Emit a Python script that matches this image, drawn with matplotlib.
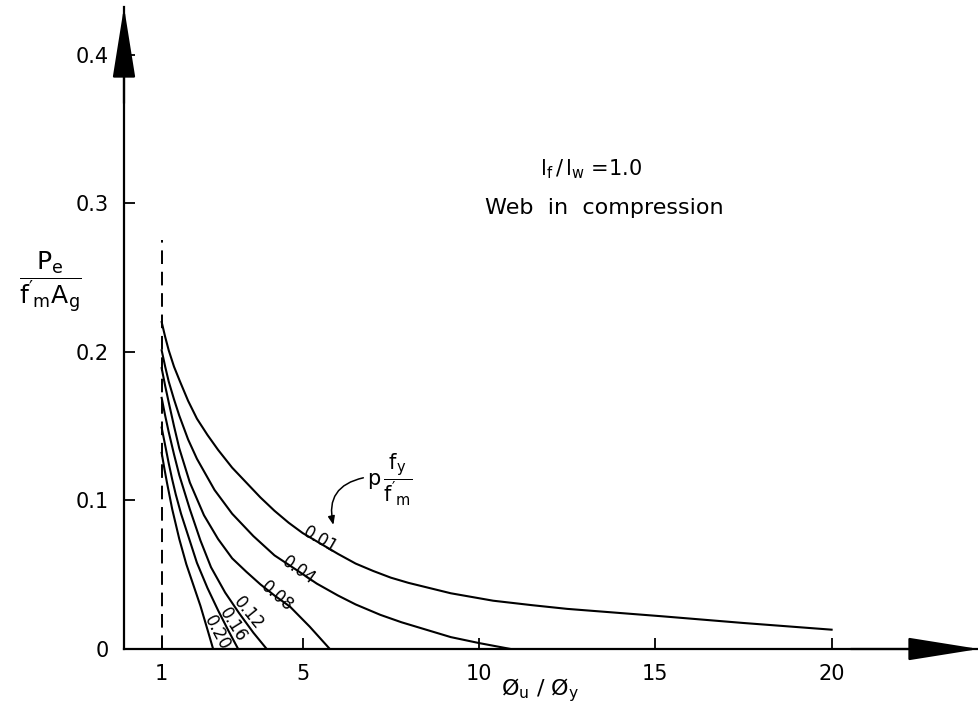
import matplotlib
matplotlib.use("Agg")
import matplotlib.pyplot as plt

plt.rcParams["font.family"] = ["DejaVu Sans"]
plt.rcParams["mathtext.default"] = "regular"

# ductility ratio vs axial load, one curve per p*fy/f'm
RHO = ["0.01", "0.04", "0.08", "0.12", "0.16", "0.20"]

x_001 = [1.0, 1.1, 1.2, 1.35, 1.52, 1.75, 2.0, 2.3, 2.6, 3.0, 3.4, 3.8, 4.2, 4.6, 5.0,
         5.5, 6.0, 6.5, 7.0, 7.5, 8.0, 9.2, 10.4, 11.5, 12.5, 15.2, 17.5, 20.0]
y_001 = [0.220, 0.210, 0.201, 0.190, 0.180, 0.167, 0.155, 0.144, 0.134, 0.122, 0.112, 0.102,
         0.093, 0.085, 0.078, 0.071, 0.064, 0.0575, 0.0525, 0.048, 0.0445, 0.0375, 0.0325,
         0.0295, 0.027, 0.022, 0.0175, 0.013]

x_004 = [1.0, 1.1, 1.2, 1.35, 1.5, 1.75, 2.0, 2.5, 3.0, 3.6, 4.2, 4.9, 5.4, 6.0, 6.5,
         7.2, 7.8, 8.5, 9.2, 10.0, 10.9]
y_004 = [0.201, 0.190, 0.180, 0.168, 0.157, 0.141, 0.128, 0.107, 0.091, 0.076, 0.063,
         0.052, 0.044, 0.036, 0.030, 0.023, 0.018, 0.013, 0.008, 0.004, 0.0]

x_008 = [1.0, 1.1, 1.2, 1.35, 1.5, 1.8, 2.2, 2.6, 3.0, 3.4, 3.8, 4.2, 4.64, 5.2, 5.77]
y_008 = [0.189, 0.177, 0.166, 0.150, 0.135, 0.112, 0.090, 0.074, 0.061, 0.052, 0.0435,
         0.036, 0.0285, 0.015, 0.0]

x_012 = [1.0, 1.1, 1.2, 1.35, 1.5, 1.8, 2.1, 2.4, 2.8, 3.2, 3.6, 3.98]
y_012 = [0.169, 0.157, 0.146, 0.131, 0.117, 0.094, 0.073, 0.055, 0.038, 0.024, 0.011, 0.0]

x_016 = [1.0, 1.1, 1.2, 1.3, 1.4, 1.55, 1.7, 2.0, 2.3, 2.6, 2.9, 3.17]
y_016 = [0.149, 0.137, 0.125, 0.114, 0.104, 0.091, 0.080, 0.058, 0.041, 0.026, 0.012, 0.0]

x_020 = [1.0, 1.08, 1.15, 1.3, 1.5, 1.7, 1.9, 2.1, 2.3, 2.46]
y_020 = [0.132, 0.121, 0.112, 0.094, 0.074, 0.057, 0.043, 0.029, 0.013, 0.0]

CURVES_X = [x_001, x_004, x_008, x_012, x_016, x_020]
CURVES_Y = [y_001, y_004, y_008, y_012, y_016, y_020]

# label anchor on each curve and its angle on the page
LABEL_X = [5.5, 4.88, 4.26, 3.46, 3.03, 2.56]
LABEL_Y = [0.0734, 0.053, 0.0352, 0.024, 0.016, 0.0106]
LABEL_ROT = [-30, -35, -41, -51, -58, -62]

X_TICKS = [1, 5, 10, 15, 20]
Y_TICKS = [0, 0.1, 0.2, 0.3, 0.4]
Y_TICK_LABELS = ["0", "0.1", "0.2", "0.3", "0.4"]

YIELD_X = 1.0
YIELD_TOP = 0.275

fig = plt.figure(figsize=(9.79, 7.14), dpi=100)
ax = fig.add_axes([124 / 979, 65 / 714, 855 / 979, 642 / 714])
ax.set_xlim(-0.068, 24.18)
ax.set_ylim(0, 0.432)

for s in ("top", "right"):
    ax.spines[s].set_visible(False)
for s in ("left", "bottom"):
    ax.spines[s].set_linewidth(1.6)

ax.set_xticks(X_TICKS)
ax.set_xticklabels([str(t) for t in X_TICKS])
ax.set_yticks(Y_TICKS)
ax.set_yticklabels(Y_TICK_LABELS)
ax.tick_params(direction="in", length=8, width=1.3, labelsize=15, pad=11)

# axis arrowheads
arrow = dict(arrowstyle="-|>,head_length=4.5,head_width=0.72", color="black",
             lw=1.6, shrinkA=0, shrinkB=0, mutation_scale=10)
ax.annotate("", xy=(0, 1.0), xytext=(0, 0.85), xycoords="axes fraction",
            arrowprops=arrow, annotation_clip=False)
ax.annotate("", xy=(1.0, 0), xytext=(0.85, 0), xycoords="axes fraction",
            arrowprops=arrow, annotation_clip=False)

ax.plot([YIELD_X, YIELD_X], [0, YIELD_TOP], color="black", lw=1.4,
        dashes=(7, 4))

for xs, ys in zip(CURVES_X, CURVES_Y):
    ax.plot(xs, ys, color="black", lw=1.5, solid_joinstyle="round")

for lab, lx, ly, rot in zip(RHO, LABEL_X, LABEL_Y, LABEL_ROT):
    ax.text(lx, ly, lab, rotation=rot, rotation_mode="anchor",
            ha="center", va="center", fontsize=12)

ax.text(6.83, 0.1138, r"$p\,\dfrac{f_y}{f'_m}$", fontsize=15, ha="left", va="center")
ax.annotate("", xy=(5.87, 0.0835), xytext=(6.72, 0.1152),
            arrowprops=dict(arrowstyle="-|>,head_length=0.5,head_width=0.2",
                            color="black", lw=1.1, shrinkA=0, shrinkB=0,
                            connectionstyle="arc3,rad=0.5", mutation_scale=10))

ax.text(11.74, 0.3226, r"$l_f\,/\,l_w$ =1.0", fontsize=15, ha="left", va="center")
ax.text(10.17, 0.297, "Web  in  compression", fontsize=16, ha="left", va="center")

fig.text(540 / 979, 1 - 690 / 714, r"Ø$_u$ / Ø$_y$", fontsize=16, ha="center", va="center")
fig.text(50 / 979, 1 - 282 / 714, r"$\dfrac{P_e}{f'_m A_g}$", fontsize=18,
         ha="center", va="center")

fig.savefig("out.png", dpi=100)
plt.close(fig)
